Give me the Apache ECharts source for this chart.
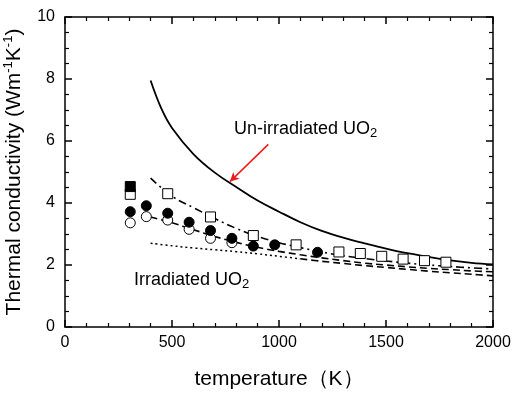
<!DOCTYPE html>
<html>
<head>
<meta charset="utf-8">
<script src="https://cdn.jsdelivr.net/npm/echarts@6/dist/echarts.min.js"></script>
<style>
  html, body { margin: 0; padding: 0; background: #fff; }
  #chart { width: 513px; height: 394px; }
</style>
</head>
<body>
<div id="chart"></div>
<script>
// model curves
const solidTemps = [400, 450, 500, 600, 700, 800, 900, 1000, 1100, 1200, 1300, 1400, 1500, 1600, 1700, 1800, 1900, 2000];
const unirradiated = [7.95, 7.05, 6.42, 5.58, 4.98, 4.52, 4.08, 3.72, 3.38, 3.1, 2.88, 2.7, 2.53, 2.38, 2.26, 2.15, 2.07, 2.02];
const lineTemps = [400, 500, 600, 700, 800, 900, 1000, 1100, 1200, 1300, 1400, 1500, 1600, 1700, 1800, 1900, 2000];
const dashDotFit = [4.8, 4.22, 3.85, 3.5, 3.18, 2.92, 2.72, 2.56, 2.42, 2.3, 2.21, 2.13, 2.06, 2.0, 1.95, 1.91, 1.87];
const dashedFit = [3.55, 3.36, 3.14, 2.92, 2.73, 2.57, 2.44, 2.33, 2.23, 2.14, 2.06, 2.0, 1.94, 1.89, 1.85, 1.81, 1.78];

// lower curve: dotted up to 1100 K, dashed above
const lowTempsA = [400, 500, 600, 700, 800, 900, 1000, 1100];
const lowDotted = [2.7, 2.62, 2.55, 2.49, 2.43, 2.36, 2.28, 2.2];
const lowTempsB = [1100, 1200, 1300, 1400, 1500, 1600, 1700, 1800, 1900, 2000];
const lowDashed = [2.2, 2.12, 2.05, 1.98, 1.92, 1.86, 1.8, 1.75, 1.7, 1.65];

// measured points
const openSqT = [305, 480, 680, 880, 1080, 1280, 1380, 1480, 1580, 1680, 1780];
const openSqK = [4.28, 4.3, 3.55, 2.95, 2.65, 2.42, 2.37, 2.28, 2.19, 2.14, 2.09];
const filledSqT = [305];
const filledSqK = [4.53];
const filledCirT = [305, 380, 480, 580, 680, 780, 880, 980, 1180];
const filledCirK = [3.72, 3.91, 3.67, 3.38, 3.11, 2.86, 2.61, 2.65, 2.41];
const openCirT = [305, 380, 480, 580, 680, 780];
const openCirK = [3.36, 3.56, 3.45, 3.15, 2.86, 2.72];

// red arrow (data coords)
const arrowFrom = [950, 5.89];
const arrowTo = [771, 4.69];

const pairs = (xs, ys) => xs.map((x, i) => [x, ys[i]]);

const FONT = '"Liberation Sans", Arial, sans-serif';
const INK = '#000';

const chart = echarts.init(document.getElementById('chart'));

// fresh objects for every axis
const ax = (n) => ({
  type: 'value',
  axisLine: { show: true, onZero: false, lineStyle: { color: INK, width: 1.5 } },
  axisTick: { show: true, inside: true, length: 7, lineStyle: { color: INK, width: 1.5 } },
  minorTick: { show: true, splitNumber: n, length: 4, lineStyle: { color: INK, width: 1.2 } },
  splitLine: { show: false }
});

const lineSeries = (name, data, type, width) => ({
  name,
  type: 'line',
  data,
  smooth: 0.4,
  showSymbol: false,
  z: 2,
  lineStyle: { color: INK, width: width || 1.8, type }
});

const pointSeries = (name, data, symbol, filled, z) => ({
  name,
  type: 'scatter',
  data,
  symbol,
  symbolSize: 10,
  z,
  itemStyle: { color: filled ? INK : '#fff', borderColor: INK, borderWidth: 1, opacity: 1 }
});

const plain = (v) => String(v);

const option = {
  animation: false,
  grid: { left: 65, right: 20, top: 17, bottom: 67, outerBoundsMode: 'none' },
  xAxis: [
    {
      ...ax(5),
      min: 0, max: 2000, interval: 500,
      axisLabel: { margin: 8, fontSize: 16, color: INK, fontFamily: FONT, formatter: plain },
      name: 'temperature（K）',
      nameLocation: 'middle',
      nameGap: 42,
      nameTextStyle: { fontSize: 21, color: INK, fontFamily: FONT }
    },
    { ...ax(5), position: 'top', min: 0, max: 2000, interval: 500, axisLabel: { show: false } }
  ],
  yAxis: [
    {
      ...ax(4),
      min: 0, max: 10, interval: 2,
      axisLabel: { margin: 10, fontSize: 16, color: INK, fontFamily: FONT, formatter: plain },
      name: 'Thermal conductivity (Wm{sup|-1}K{sup|-1})',
      nameLocation: 'middle',
      nameRotate: 90,
      nameGap: 26,
      nameTextStyle: {
        fontSize: 21, color: INK, fontFamily: FONT, lineHeight: 24,
        rich: { sup: { fontSize: 13, color: INK, fontFamily: FONT, lineHeight: 15, verticalAlign: 'top' } }
      }
    },
    { ...ax(4), position: 'right', min: 0, max: 10, interval: 2, axisLabel: { show: false } }
  ],
  series: [
    {
      ...lineSeries('un-irradiated', pairs(solidTemps, unirradiated), 'solid', 1.8),
      markLine: {
        silent: true,
        symbol: ['none', 'arrow'],
        symbolSize: [7, 9],
        label: { show: false },
        lineStyle: { color: '#ee1b1b', width: 1.5, type: 'solid' },
        data: [[{ coord: arrowFrom }, { coord: arrowTo }]]
      }
    },
    lineSeries('dash-dot', pairs(lineTemps, dashDotFit), [8, 4, 2, 4], 1.6),
    lineSeries('dashed', pairs(lineTemps, dashedFit), [7, 4], 1.6),
    lineSeries('low dotted', pairs(lowTempsA, lowDotted), [2, 3], 1.5),
    lineSeries('low dashed', pairs(lowTempsB, lowDashed), [7, 4], 1.6),
    pointSeries('open square', pairs(openSqT, openSqK), 'rect', false, 3),
    pointSeries('filled square', pairs(filledSqT, filledSqK), 'rect', true, 4),
    pointSeries('open circle', pairs(openCirT, openCirK), 'circle', false, 3),
    pointSeries('filled circle', pairs(filledCirT, filledCirK), 'circle', true, 4)
  ],
  graphic: [
    {
      type: 'text', left: 234, top: 118, z: 10,
      style: {
        text: 'Un-irradiated UO{sub|2}',
        fontSize: 18, fontFamily: FONT, fill: INK, lineHeight: 22,
        rich: { sub: { fontSize: 13, fontFamily: FONT, fill: INK, lineHeight: 16, verticalAlign: 'bottom' } }
      }
    },
    {
      type: 'text', left: 134, top: 269, z: 10,
      style: {
        text: 'Irradiated UO{sub|2}',
        fontSize: 18, fontFamily: FONT, fill: INK, lineHeight: 22,
        rich: { sub: { fontSize: 13, fontFamily: FONT, fill: INK, lineHeight: 16, verticalAlign: 'bottom' } }
      }
    }
  ]
};

chart.setOption(option);
</script>
</body>
</html>
